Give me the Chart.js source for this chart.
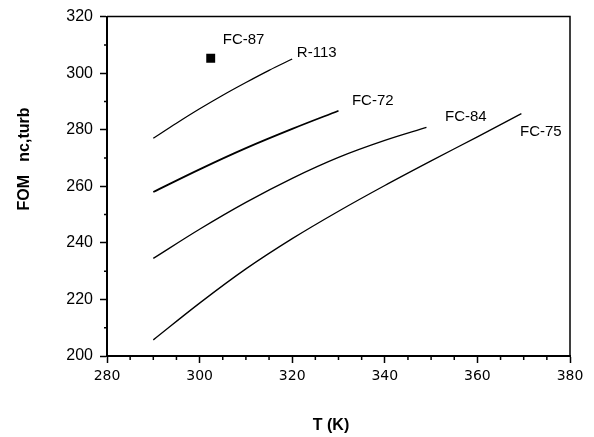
<!DOCTYPE html>
<html>
<head>
<meta charset="utf-8">
<script src="https://cdn.jsdelivr.net/npm/chart.js@4"></script>
<style>
    body { margin: 0; background: #fff; }
    #wrap { width: 594px; height: 437px; position: relative; }
</style>
</head>
<body>
<div id="wrap"><canvas id="chart"></canvas></div>
<script>
// values
const xTicks = [280, 300, 320, 340, 360, 380];
const yTicks = [200, 220, 240, 260, 280, 300, 320];

const tR113 = [290, 295, 300, 305, 310, 315, 320];
const fomR113 = [277, 282.3, 287.4, 292.2, 296.7, 301, 305];

const tFC72 = [290, 300, 310, 320, 330];
const fomFC72 = [258, 266, 273.5, 280.3, 286.7];

const tFC84 = [290, 300, 310, 320, 330, 340, 349];
const fomFC84 = [234.5, 244.8, 254.3, 262.8, 270.2, 276.2, 280.8];

const tFC75 = [290, 300, 310, 320, 330, 340, 350, 360, 369.5];
const fomFC75 = [205.7, 218.7, 230.8, 241.5, 251.2, 260.3, 269, 277.5, 285.7];

const tFC87 = [302.4];
const fomFC87 = [305.3];

// curve names and where their labels sit (in data units)
const labelNames = ["FC-87", "R-113", "FC-72", "FC-84", "FC-75"];
const labelT = [305, 321, 332.9, 353, 369.2];
const labelFOM = [311.7, 307.1, 290.1, 284.5, 279.3];

function toPoints(xs, ys) {
    return xs.map((x, i) => ({ x: x, y: ys[i] }));
}

function lineSet(name, xs, ys, width) {
    return {
        label: name,
        data: toPoints(xs, ys),
        showLine: true,
        borderColor: "#000",
        borderWidth: width,
        pointRadius: 0,
        cubicInterpolationMode: "monotone",
        fill: false
    };
}

const framePlugin = {
    id: "frame",
    afterDraw(chart) {
        const ctx = chart.ctx;
        const a = chart.chartArea;
        const xs = chart.scales.x;
        const ys = chart.scales.y;
        ctx.save();
        ctx.strokeStyle = "#000";
        ctx.lineWidth = 1.5;
        ctx.beginPath();
        ctx.moveTo(a.left, a.top);
        ctx.lineTo(a.right, a.top);
        ctx.lineTo(a.right, a.bottom);
        ctx.stroke();

        // minor ticks
        ctx.lineWidth = 1.5;
        ctx.beginPath();
        for (let v = 210; v < 320; v += 20) {
            const py = ys.getPixelForValue(v);
            ctx.moveTo(a.left - 3, py);
            ctx.lineTo(a.left, py);
        }
        for (let v = 285; v < 380; v += 5) {
            if (v % 20 === 0) continue;
            const px = xs.getPixelForValue(v);
            ctx.moveTo(px, a.bottom);
            ctx.lineTo(px, a.bottom + 4);
        }
        ctx.stroke();

        // axis titles
        ctx.fillStyle = "#000";
        ctx.font = "bold 16px 'Liberation Sans', Arial, sans-serif";
        ctx.textAlign = "center";
        ctx.textBaseline = "middle";
        ctx.fillText("T (K)", 331, 426);
        ctx.translate(25, 159);
        ctx.rotate(-Math.PI / 2);
        ctx.fillText("FOM   nc,turb", 0, 0);
        ctx.restore();
    },
    afterDatasetsDraw(chart) {
        const ctx = chart.ctx;
        const xs = chart.scales.x;
        const ys = chart.scales.y;
        ctx.save();
        ctx.fillStyle = "#000";
        ctx.font = "15px 'Liberation Sans', Arial, sans-serif";
        ctx.textAlign = "left";
        ctx.textBaseline = "middle";
        labelNames.forEach((name, i) => {
            ctx.fillText(name, xs.getPixelForValue(labelT[i]), ys.getPixelForValue(labelFOM[i]));
        });
        ctx.restore();
    }
};

new Chart(document.getElementById("chart"), {
    type: "scatter",
    data: {
        datasets: [
            lineSet("R-113", tR113, fomR113, 1.3),
            lineSet("FC-72", tFC72, fomFC72, 1.8),
            lineSet("FC-84", tFC84, fomFC84, 1.3),
            lineSet("FC-75", tFC75, fomFC75, 1.3),
            {
                label: "FC-87",
                data: toPoints(tFC87, fomFC87),
                pointStyle: "rect",
                pointRadius: 6.3,
                backgroundColor: "#000",
                borderColor: "#000",
                borderWidth: 0
            }
        ]
    },
    options: {
        responsive: true,
        maintainAspectRatio: false,
        animation: false,
        devicePixelRatio: 1,
        layout: { padding: { top: 12, right: 24, left: 0, bottom: 0 } },
        plugins: {
            legend: { display: false },
            tooltip: { enabled: false }
        },
        scales: {
            x: {
                type: "linear",
                min: 280,
                max: 380,
                afterBuildTicks: s => { s.ticks = xTicks.map(v => ({ value: v })); },
                afterFit: s => { s.height = 81; },
                ticks: {
                    color: "#000",
                    padding: 5,
                    maxRotation: 0,
                    font: { family: "'DejaVu Sans'", size: 14 }
                },
                grid: { drawOnChartArea: false, tickLength: 7, tickColor: "#000", tickWidth: 1.5 },
                border: { display: true, color: "#000", width: 2 }
            },
            y: {
                type: "linear",
                min: 200,
                max: 320,
                afterBuildTicks: s => { s.ticks = yTicks.map(v => ({ value: v })); },
                afterFit: s => { s.width = 107; },
                ticks: {
                    color: "#000",
                    padding: 7,
                    font: { family: "'Liberation Sans', Arial", size: 16 }
                },
                grid: { drawOnChartArea: false, tickLength: 7, tickColor: "#000", tickWidth: 1.5 },
                border: { display: true, color: "#000", width: 2 }
            }
        }
    },
    plugins: [framePlugin]
});
</script>
</body>
</html>
